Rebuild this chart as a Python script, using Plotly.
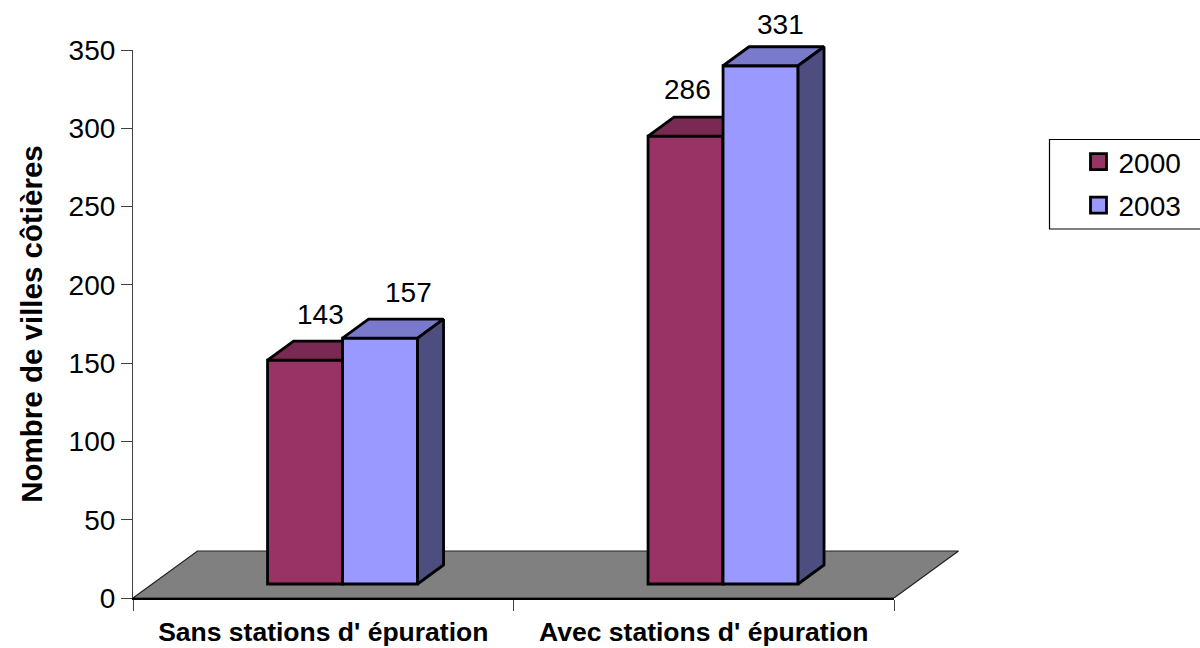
import plotly.graph_objects as go

# --- data ---
categories = ["Sans stations d' épuration", "Avec stations d' épuration"]
series_names = ["2000", "2003"]
values_2000 = [143, 286]
values_2003 = [157, 331]
y_ticks = [0, 50, 100, 150, 200, 250, 300, 350]
y_title = "Nombre de villes côtières"

# --- styles ---
FRONT = {"2000": "#993366", "2003": "#9999FF"}
TOP = {"2000": "#7A2952", "2003": "#7A7ACC"}
SIDE = {"2000": "#4D1A33", "2003": "#4D4D80"}
FONT = "Liberation Sans"
PLOT_L, PLOT_B, AXIS_W, AXIS_H = 133, 598, 761, 548
AREA_W, AREA_H = 840, 593      # drawing area, larger than the axes so 3D faces are not clipped
PX_X = AXIS_W / 2              # pixels per category
PX_Y = AXIS_H / 350            # pixels per value unit
BAR_W = 75 / PX_X
BAR_SHIFT = 19.3 / PX_X
DX = 26 / PX_X                 # bar depth, in x units
DY = 19 / PX_Y                 # bar depth, in y units
BASE = 14 / PX_Y               # bars stand this far back on the floor
FLOOR_DX = 64.5 / PX_X
FLOOR_DY = 47 / PX_Y

LINE = dict(color="black", width=2.8)
centers = [i + 0.5 for i in range(len(categories))]

fig = go.Figure()

# floor
fig.add_trace(go.Scatter(
    x=[0, 2, 2 + FLOOR_DX, FLOOR_DX, 0], y=[0, 0, FLOOR_DY, FLOOR_DY, 0],
    mode="lines", fill="toself", fillcolor="#808080",
    line=dict(color="#202020", width=1.2),
    showlegend=False, hoverinfo="skip", xaxis="x2", yaxis="y2",
))


def add_series(name, values, offset, xa, ya):
    fig.add_trace(go.Bar(
        x=centers, y=values, base=BASE, width=BAR_W, offset=offset,
        marker=dict(color=FRONT[name], line=LINE), name=name,
        showlegend=False, xaxis=xa, yaxis=ya,
    ))
    for c, v in zip(centers, values):
        x0 = c + offset
        x1 = x0 + BAR_W
        top = v + BASE
        fig.add_trace(go.Scatter(
            x=[x0, x1, x1 + DX, x0 + DX, x0],
            y=[top, top, top + DY, top + DY, top],
            mode="lines", fill="toself", fillcolor=TOP[name], line=LINE,
            showlegend=False, hoverinfo="skip", xaxis=xa, yaxis=ya,
        ))
        fig.add_trace(go.Scatter(
            x=[x1, x1 + DX, x1 + DX, x1, x1],
            y=[BASE, BASE + DY, top + DY, top, BASE],
            mode="lines", fill="toself", fillcolor=SIDE[name], line=LINE,
            showlegend=False, hoverinfo="skip", xaxis=xa, yaxis=ya,
        ))
    # legend entry
    fig.add_trace(go.Scatter(
        x=[None], y=[None], mode="markers", name=name, legendgroup=name,
        marker=dict(symbol="square", size=16, color=FRONT[name], line=dict(color="black", width=2.8)),
        xaxis=xa, yaxis=ya,
    ))


add_series("2000", values_2000, BAR_SHIFT - BAR_W, "x3", "y3")
add_series("2003", values_2003, BAR_SHIFT, "x4", "y4")

# data labels
label_shift_x = [15, 2, 28, 20]
label_shift_y = [60, 61, 60, 55]
pairs = list(zip(centers, values_2000)) + list(zip(centers, values_2003))
offsets = [BAR_SHIFT - BAR_W / 2] * 2 + [BAR_SHIFT + BAR_W / 2] * 2
for (c, v), off, sx, sy in zip(pairs, offsets, label_shift_x, label_shift_y):
    fig.add_annotation(
        x=c + off, y=v, text=str(v), showarrow=False, xref="x", yref="y",
        xanchor="center", yanchor="middle", xshift=sx, yshift=sy,
        font=dict(family=FONT, size=28, color="black"),
    )

hidden_x = dict(domain=[0, 1], range=[0, AREA_W / PX_X], visible=False)
hidden_y = dict(domain=[0, 1], range=[0, AREA_H / PX_Y], visible=False)


def px(x):
    return (x - PLOT_L) / AREA_W


def py(y):
    return (PLOT_B - y) / AREA_H


fig.update_layout(
    width=1200, height=648,
    margin=dict(l=PLOT_L, r=1200 - PLOT_L - AREA_W, t=PLOT_B - AREA_H, b=648 - PLOT_B, pad=0, autoexpand=False),
    paper_bgcolor="white", plot_bgcolor="rgba(0,0,0,0)",
    font=dict(family=FONT, color="black"),
    barmode="overlay",
    hovermode=False,
    xaxis=dict(
        domain=[0, AXIS_W / AREA_W], range=[0, 2], tickvals=centers, ticktext=categories,
        tickfont=dict(family=FONT, size=26.5, color="black", weight=700),
        ticks="outside", ticklen=9, tickcolor="rgba(0,0,0,0)",
        showgrid=False, zeroline=False, showline=True, linecolor="black", linewidth=1.5,
        minor=dict(tickvals=[0, 1, 2], ticks="outside", ticklen=11, tickcolor="#404040", tickwidth=1, showgrid=False),
    ),
    yaxis=dict(
        domain=[0, AXIS_H / AREA_H], range=[0, 350], tickvals=y_ticks,
        tickfont=dict(family=FONT, size=28, color="black"),
        ticks="outside", ticklen=11, tickcolor="#404040", tickwidth=1.2,
        showgrid=False, zeroline=False, showline=True, linecolor="#404040", linewidth=1.2,
        title=dict(text=y_title, font=dict(family=FONT, size=29.5, color="black", weight=700), standoff=17),
    ),
    xaxis2=dict(anchor="y2", **hidden_x),
    yaxis2=dict(anchor="x2", **hidden_y),
    xaxis3=dict(anchor="y3", **hidden_x),
    yaxis3=dict(anchor="x3", **hidden_y),
    xaxis4=dict(anchor="y4", **hidden_x),
    yaxis4=dict(anchor="x4", **hidden_y),
    legend=dict(
        x=px(1078.5), y=py(137), xanchor="left", yanchor="top",
        font=dict(family=FONT, size=28, color="black"),
        bgcolor="rgba(0,0,0,0)", borderwidth=0, tracegroupgap=4, traceorder="grouped",
    ),
    shapes=[dict(
        type="rect", xref="paper", yref="paper",
        x0=px(1049.5), x1=px(1210), y0=py(229), y1=py(139.5),
        line=dict(color="black", width=1.2), fillcolor="white", layer="below",
    )],
)

fig.write_html("out.html", config={"displayModeBar": False},
               post_script="document.body.style.margin='0';")
